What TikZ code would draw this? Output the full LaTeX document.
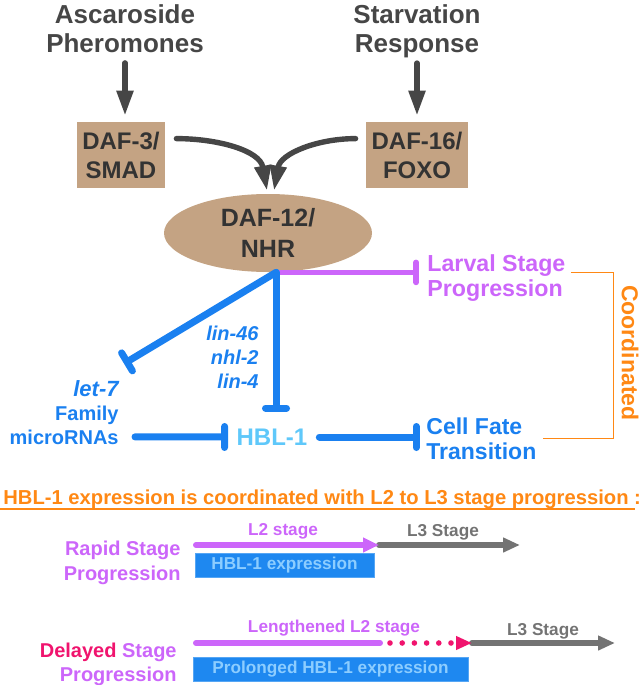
\documentclass[tikz,border=0pt]{standalone}
\usepackage{fontspec}
\setmainfont{Liberation Sans}
\usetikzlibrary{arrows.meta,calc,shapes.geometric}

\definecolor{tanbox}{RGB}{196,163,131}
\definecolor{darkarrow}{RGB}{70,70,70}
\definecolor{darktext}{RGB}{51,51,51}
\definecolor{hblue}{RGB}{26,128,240}
\definecolor{hbllight}{RGB}{95,200,250}
\definecolor{stagepurple}{RGB}{204,102,250}
\definecolor{coordorange}{RGB}{255,136,20}
\definecolor{delayred}{RGB}{240,20,110}
\definecolor{stagegray}{RGB}{115,115,115}
\definecolor{barblue}{RGB}{30,136,240}
\definecolor{bartext}{RGB}{140,205,255}

\begin{document}
\begin{tikzpicture}[x=0.5pt,y=0.5pt,
  txt/.style={inner sep=0pt},
  toptxt/.style={txt,align=center,text=darkarrow,font=\bfseries\fontsize{13}{14.5}\selectfont},
  tanbox/.style={txt,fill=tanbox,minimum height=33pt,align=center,text=darktext,font=\bfseries\fontsize{12}{14.5}\selectfont},
  darrow/.style={draw=darkarrow,line width=2.7pt,line cap=round,-{Triangle[length=12.5pt,width=8pt]}},
  pblock/.style={draw=stagepurple,line width=2.8pt,-{Bar[width=10pt,round]}},
  bblock/.style={draw=hblue,line width=3.5pt,line cap=round,-{Bar[width=10.5pt,round]}},
  ptxt/.style={txt,text=stagepurple,font=\bfseries\fontsize{11.6}{12.5}\selectfont},
  btxt/.style={txt,text=hblue,font=\bfseries\fontsize{10}{12}\selectfont},
  ctxt/.style={txt,text=coordorange,font=\bfseries\fontsize{11.5}{13}\selectfont},
  stxt/.style={txt,font=\bfseries\fontsize{8.6}{10}\selectfont},
  tline/.style={line width=3pt,line cap=round},
  parrow/.style={tline,draw=stagepurple,-{Triangle[length=8pt,width=7pt]}},
  garrow/.style={tline,draw=stagegray,-{Triangle[length=8.5pt,width=7pt]}},
  hbar/.style={txt,fill=barblue,draw=barblue!75!white,line width=0.4pt,minimum height=12pt,text=bartext,font=\bfseries\fontsize{8.6}{10}\selectfont}
]
  \useasboundingbox (0,0) rectangle (640,-685);
  % Inputs
  \node[toptxt,anchor=north] (asc) at (125,-4) {Ascaroside\\Pheromones};
  \node[toptxt,anchor=north] (starv) at (417,-4) {Starvation\\Response};
  \node[tanbox,minimum width=44pt] (daf3) at (121,-155) {DAF-3/\\SMAD};
  \node[tanbox,minimum width=51pt] (daf16) at (417,-155) {DAF-16/\\FOXO};
  \node[ellipse,fill=tanbox,minimum width=104pt,minimum height=39pt,inner sep=0pt,align=center,text=darktext,
    font=\bfseries\fontsize{12.5}{15.5}\selectfont] (nhr) at (268,-233) {DAF-12/\\NHR};
  \draw[darrow,shorten <=5pt,shorten >=3pt] (asc.south) -- (asc.south |- daf3.north);
  \draw[darrow,shorten <=2.5pt,shorten >=3pt] (starv.south) -- (daf16.north);
  \draw[darrow] ($(daf3.north east)+(11,-17)$) to[out=0,in=100] ($(nhr.north)+(-1,3)$);
  \draw[darrow] ($(daf16.north west)+(-10,-17)$) to[out=180,in=80] ($(nhr.north)+(6,3)$);

  % Outputs of DAF-12
  \coordinate (hub) at ($(nhr.south)+(8,0)$);
  \node[ptxt,anchor=north west,align=left] (larval) at (427,-254) {Larval Stage\\Progression};
  \node[txt,text=hbllight,font=\bfseries\fontsize{12}{14}\selectfont] (hbl) at (272,-437) {HBL-1};
  \node[txt,text=hblue,font=\bfseries\fontsize{11.5}{12.5}\selectfont,anchor=north west,align=left] (cell) at (426,-417) {Cell Fate\\Transition};
  \node[txt,text=hblue,font=\bfseries\itshape\fontsize{11}{12}\selectfont,anchor=base east] (let7) at (119,-396) {let-7};
  \node[btxt,anchor=base east] (fam) at (119,-420) {Family};
  \node[btxt,anchor=base east] (mirna) at (119,-444) {microRNAs};
  \node[btxt,font=\bfseries\itshape\fontsize{10}{12}\selectfont,anchor=north east,align=right] (linmir) at (259,-326) {lin-46\\nhl-2\\lin-4};
  \draw[pblock,shorten >=4pt] (hub) -- (hub -| larval.west);
  \draw[bblock,shorten >=8.4pt] (hub) -- (hub |- hbl.north);
  \draw[bblock] (hub) -- ($(let7.north east)+(5,16)$);
  \draw[bblock,shorten <=8pt,shorten >=4.1pt] (mirna.east) -- (hbl.west);
  \draw[bblock,shorten <=5.8pt,shorten >=3.2pt] (hbl.east) -- (hbl.east -| cell.west);

  % Coordination bracket
  \draw[coordorange,line width=0.6pt] ($(larval.east |- hub)+(5,0)$) -- ++(43,0) |- ($(cell.east)+(6,0)$);
  \node[ctxt,rotate=-90] (coord) at (630,-353) {Coordinated};

  % Timelines
  \node[txt,text=coordorange,font=\bfseries\fontsize{10.1}{12}\selectfont,anchor=base west] (title) at (3,-504)
    {HBL-1 expression is coordinated with L2 to L3 stage progression :};
  \draw[coordorange,line width=0.8pt] ($(title.base west)+(-3,-5)$) -- ($(title.base east)+(-6,-5)$);

  \node[ptxt,font=\bfseries\fontsize{10}{12.5}\selectfont,anchor=north east,align=right] (rapid) at (181,-541) {Rapid Stage\\Progression};
  \coordinate (rstart) at (196,-545);
  \coordinate (rmid) at (379,-545);
  \coordinate (rend) at (520,-545);
  \draw[garrow] (rmid) -- (rend);
  \draw[parrow] (rstart) -- (rmid);
  \node[stxt,text=stagepurple,anchor=base] (l2a) at (283,-535) {L2 stage};
  \node[stxt,text=stagegray,anchor=base] (l3a) at (443,-536) {L3 Stage};
  \node[hbar,minimum width=89.5pt] (hexp1) at (284.5,-565.5) {HBL-1 expression};

  \node[ptxt,font=\bfseries\fontsize{10}{12}\selectfont,anchor=north east,align=right] (delayed) at (177,-643)
    {{\color{delayred}Delayed} Stage\\Progression};
  \coordinate (dstart) at (196,-643);
  \coordinate (dmid) at (380,-643);
  \coordinate (ddot) at (390,-643);
  \coordinate (dtip) at (472,-643);
  \coordinate (dend) at (615,-643);
  \draw[garrow] (dtip) -- (dend);
  \draw[tline,draw=stagepurple] (dstart) -- (dmid);
  \draw[tline,draw=delayred,line width=2.8pt,dash pattern=on 0pt off 6.1pt,-{Triangle[length=8pt,width=6.5pt]}] (ddot) -- (dtip);
  \node[stxt,text=stagepurple,anchor=base] (l2b) at (334,-632) {Lengthened L2 stage};
  \node[stxt,text=stagegray,anchor=base] (l3b) at (543,-635) {L3 Stage};
  \node[hbar,minimum width=137.5pt] (hexp2) at (330.5,-669) {Prolonged HBL-1 expression};
\end{tikzpicture}
\end{document}
